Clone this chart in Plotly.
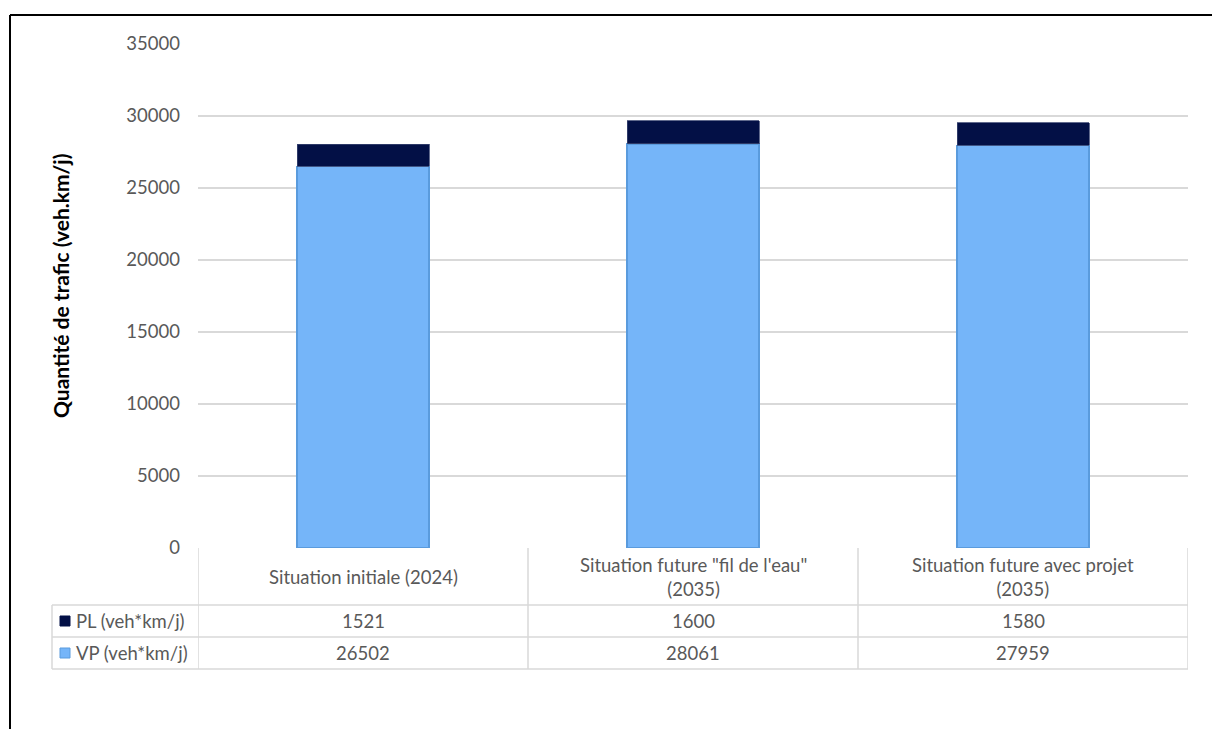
import plotly.graph_objects as go

# Scenarios and traffic volumes (veh*km/j)
categories = ["Situation initiale (2024)",
              "Situation future \"fil de l'eau\"<br>(2035)",
              "Situation future avec projet<br>(2035)"]
vp_values = [26502, 28061, 27959]
pl_values = [1521, 1600, 1580]
series_names = ["PL (veh*km/j)", "VP (veh*km/j)"]
y_ticks = [0, 5000, 10000, 15000, 20000, 25000, 30000, 35000]

VP_COLOR = "#75B5F9"
PL_COLOR = "#031046"
GRID = "#D9D9D9"
TXT = "#595959"
FONT = "Lato"
FS = 18.5

# pixel geometry of the plot area
W, H = 1212, 729
L, R, T, B = 198, 24, 44, 181
pw, ph = W - L - R, H - T - B


def px(x):
    return (x - L) / pw


def py(y):
    return (H - B - y) / ph


x_idx = list(range(len(categories)))

fig = go.Figure()
fig.add_trace(go.Bar(x=x_idx, y=vp_values, name=series_names[1],
                     marker=dict(color=VP_COLOR, line=dict(color="#5A9BDD", width=1.2))))
fig.add_trace(go.Bar(x=x_idx, y=pl_values, name=series_names[0],
                     marker=dict(color=PL_COLOR, line=dict(color="#3A4570", width=0.8))))

shapes = []
annotations = []

# data table rows (pixel y boundaries)
row_top, row_hdr, row_pl, row_vp = 548, 605, 637, 669
line = dict(color=GRID, width=1.5)
for yy in (row_hdr, row_pl, row_vp):
    shapes.append(dict(type="line", xref="paper", yref="paper",
                       x0=px(52), x1=1, y0=py(yy), y1=py(yy), line=line))
shapes.append(dict(type="line", xref="paper", yref="paper",
                   x0=px(52), x1=px(52), y0=py(row_hdr), y1=py(row_vp), line=line))
for b in [-0.5, 0.5, 1.5, 2.5]:
    shapes.append(dict(type="line", xref="x", yref="paper",
                       x0=b, x1=b, y0=0, y1=py(row_vp), line=line))

# header cells
for i, c in enumerate(categories):
    annotations.append(dict(x=i, y=py((row_top + row_hdr) / 2 + 0.5), xref="x", yref="paper",
                            text=c, showarrow=False, font=dict(size=FS, color=TXT, family=FONT),
                            xanchor="center", yanchor="middle"))

# value rows with legend keys
rows = [(series_names[0], pl_values, PL_COLOR, PL_COLOR, row_hdr, row_pl),
        (series_names[1], vp_values, VP_COLOR, "#5A9BDD", row_pl, row_vp)]
for name, vals, fill, edge, y0, y1 in rows:
    yc = (y0 + y1) / 2
    shapes.append(dict(type="rect", xref="paper", yref="paper",
                       x0=px(60), x1=px(70), y0=py(yc + 5), y1=py(yc - 5),
                       fillcolor=fill, line=dict(color=edge, width=1)))
    annotations.append(dict(x=px(74), y=py(yc), xref="paper", yref="paper", text=name,
                            showarrow=False, xanchor="left", yanchor="middle",
                            font=dict(size=FS, color=TXT, family=FONT)))
    for i, v in enumerate(vals):
        annotations.append(dict(x=i, y=py(yc), xref="x", yref="paper", text=str(v),
                                showarrow=False, xanchor="center", yanchor="middle",
                                font=dict(size=FS, color=TXT, family=FONT)))

# outer frame (top and left edges)
frame = dict(color="#000000", width=2)
shapes.append(dict(type="line", xref="paper", yref="paper",
                   x0=px(10), x1=px(W + 5), y0=py(15), y1=py(15), line=frame))
shapes.append(dict(type="line", xref="paper", yref="paper",
                   x0=px(10), x1=px(10), y0=py(15), y1=py(H + 5), line=frame))

# y-axis title
annotations.append(dict(x=px(60), y=py(286), xref="paper", yref="paper",
                        text="<b>Quantité de trafic (veh.km/j)</b>", textangle=-90,
                        showarrow=False, xanchor="center", yanchor="middle",
                        font=dict(size=21, color="#000000", family=FONT)))

fig.update_layout(
    width=W, height=H,
    margin=dict(l=L, r=R, t=T, b=B),
    barmode="stack", bargap=0.6,
    plot_bgcolor="white", paper_bgcolor="white",
    showlegend=False,
    shapes=shapes, annotations=annotations,
    xaxis=dict(range=[-0.5, 2.5], showticklabels=False, showgrid=False,
               zeroline=False, showline=False, fixedrange=True),
    yaxis=dict(range=[0, 35000], tickvals=y_ticks, ticktext=[str(v) for v in y_ticks],
               showgrid=True, gridcolor=GRID,
               gridwidth=1.5, zeroline=False, showline=False, ticks="",
               ticklabelstandoff=17, tickfont=dict(size=FS, color=TXT, family=FONT),
               fixedrange=True),
)

fig.write_html("out.html")
